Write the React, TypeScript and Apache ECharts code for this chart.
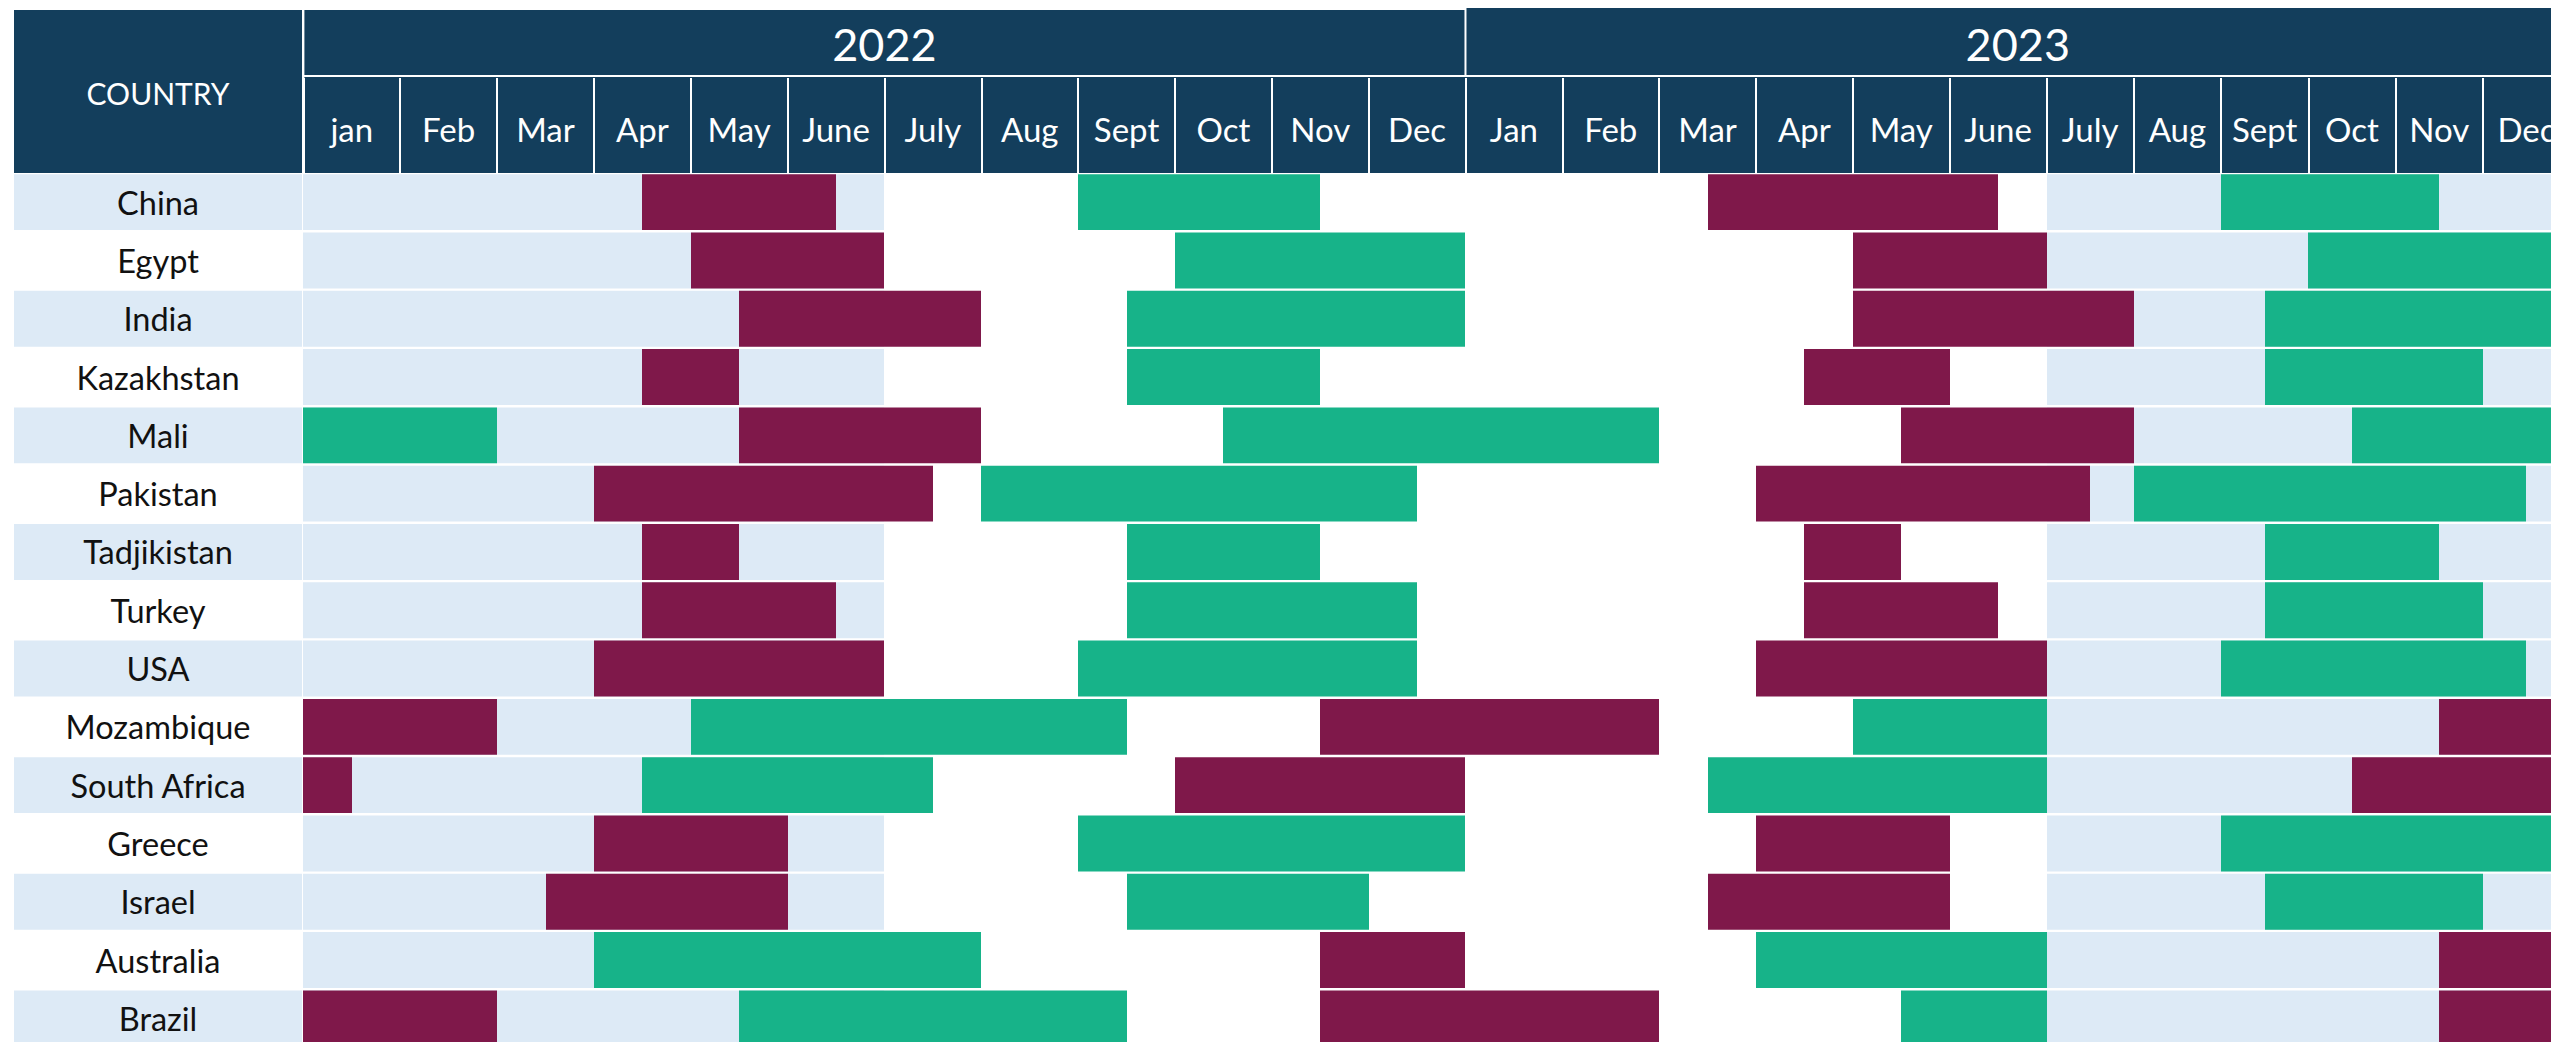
import React, { useEffect, useRef } from 'react';
import * as echarts from 'echarts';

// ---------------- data ----------------
const countries = [
  'China', 'Egypt', 'India', 'Kazakhstan', 'Mali', 'Pakistan', 'Tadjikistan', 'Turkey',
  'USA', 'Mozambique', 'South Africa', 'Greece', 'Israel', 'Australia', 'Brazil',
];
const years = ['2022', '2023'];
const months2022 = ['jan', 'Feb', 'Mar', 'Apr', 'May', 'June', 'July', 'Aug', 'Sept', 'Oct', 'Nov', 'Dec'];
const months2023 = ['Jan', 'Feb', 'Mar', 'Apr', 'May', 'June', 'July', 'Aug', 'Sept', 'Oct', 'Nov', 'Dec'];

// periods in month units: 0 = start of Jan 2022, 12 = start of Jan 2023, 24 = end of Dec 2023
const maroonPeriods: [string, number, number][] = [
  ['China', 3.5, 5.5], ['China', 14.5, 17.5],
  ['Egypt', 4, 6], ['Egypt', 16, 18],
  ['India', 4.5, 7], ['India', 16, 19],
  ['Kazakhstan', 3.5, 4.5], ['Kazakhstan', 15.5, 17],
  ['Mali', 4.5, 7], ['Mali', 16.5, 19],
  ['Pakistan', 3, 6.5], ['Pakistan', 15, 18.5],
  ['Tadjikistan', 3.5, 4.5], ['Tadjikistan', 15.5, 16.5],
  ['Turkey', 3.5, 5.5], ['Turkey', 15.5, 17.5],
  ['USA', 3, 6], ['USA', 15, 18],
  ['Mozambique', 0, 2], ['Mozambique', 10.5, 14], ['Mozambique', 22.5, 24],
  ['South Africa', 0, 0.5], ['South Africa', 9, 12], ['South Africa', 21.5, 24],
  ['Greece', 3, 5], ['Greece', 15, 17],
  ['Israel', 2.5, 5], ['Israel', 14.5, 17],
  ['Australia', 10.5, 12], ['Australia', 22.5, 24],
  ['Brazil', 0, 2], ['Brazil', 10.5, 14], ['Brazil', 22.5, 24],
];
const greenPeriods: [string, number, number][] = [
  ['China', 8, 10.5], ['China', 20, 22.5],
  ['Egypt', 9, 12], ['Egypt', 21, 24],
  ['India', 8.5, 12], ['India', 20.5, 24],
  ['Kazakhstan', 8.5, 10.5], ['Kazakhstan', 20.5, 23],
  ['Mali', 0, 2], ['Mali', 9.5, 14], ['Mali', 21.5, 24],
  ['Pakistan', 7, 11.5], ['Pakistan', 19, 23.5],
  ['Tadjikistan', 8.5, 10.5], ['Tadjikistan', 20.5, 22.5],
  ['Turkey', 8.5, 11.5], ['Turkey', 20.5, 23],
  ['USA', 8, 11.5], ['USA', 20, 23.5],
  ['Mozambique', 4, 8.5], ['Mozambique', 16, 18],
  ['South Africa', 3.5, 6.5], ['South Africa', 14.5, 18],
  ['Greece', 8, 12], ['Greece', 20, 24],
  ['Israel', 8.5, 11], ['Israel', 20.5, 23],
  ['Australia', 3, 7], ['Australia', 15, 18],
  ['Brazil', 4.5, 8.5], ['Brazil', 16.5, 18],
];
const shadedPeriods: [number, number][] = [[0, 6], [18, 24]];

// ---------------- style / layout ----------------
const NAVY = '#133E5C';
const MAROON = '#7F184A';
const GREEN = '#17B389';
const LIGHT = '#DDEAF6';
const FONT = 'Lato, "Noto Sans", sans-serif';

const LABEL_L = 6;
const LABEL_R = 294;
const GRID_TOP = 165;
const ROW_H = 58.3;
const A_LEFT = 295.4;
const COL_A = 96.84;
const SPLIT = 18;
const COL_B = 87.26;
const B_LEFT = A_LEFT + SPLIT * COL_A;
const TOTAL = 24;

const allMonths = [...months2022, ...months2023];

function toItems(list: [string, number, number][], lo: number, hi: number) {
  const out: number[][] = [];
  list.forEach(([c, s, e]) => {
    const a = Math.max(s, lo);
    const b = Math.min(e, hi);
    if (b > a) out.push([a, b, countries.indexOf(c)]);
  });
  return out;
}

function shadedList(): [string, number, number][] {
  const out: [string, number, number][] = [];
  countries.forEach((c) => shadedPeriods.forEach(([s, e]) => out.push([c, s, e])));
  return out;
}

const makeRender = (fill: string) => (params: any, api: any) => {
  const p0 = api.coord([api.value(0), api.value(2)]);
  const p1 = api.coord([api.value(1), api.value(2)]);
  const h = api.size([0, 1])[1];
  const x0 = Math.round(p0[0]);
  const x1 = Math.round(p1[0]);
  return {
    type: 'rect',
    shape: { x: x0, y: p0[1] - h / 2 + 1.2, width: x1 - x0, height: h - 2.4 },
    style: { fill },
  };
};

const labelRender = (params: any, api: any) => {
  const p0 = api.coord([api.value(0), api.value(2)]);
  const p1 = api.coord([api.value(1), api.value(2)]);
  const h = api.size([0, 1])[1];
  return {
    type: 'rect',
    shape: { x: p0[0], y: p0[1] - h / 2 + 1.2, width: p1[0] - p0[0], height: h - 2.4 },
    style: { fill: params.dataIndex % 2 === 0 ? LIGHT : '#ffffff' },
  };
};

export default function App() {
  const ref = useRef<HTMLDivElement>(null);

  useEffect(() => {
    if (!ref.current) return;
    const chart = echarts.init(ref.current, undefined, { renderer: 'svg' });
    const gridH = ROW_H * countries.length;
    const baseGrid = { top: GRID_TOP, height: gridH, containLabel: false, outerBoundsMode: 'none' };

    const monthAxisCommon = {
      type: 'category',
      position: 'top',
      boundaryGap: true,
      axisLine: { show: false },
      axisTick: { show: true, interval: 0, length: 95, lineStyle: { color: '#ffffff', width: 2 } },
      axisLabel: {
        interval: 0,
        color: '#ffffff',
        fontFamily: FONT,
        fontSize: 33,
        margin: 44,
        verticalAlign: 'middle',
      },
      splitLine: { show: false },
      z: 10,
    };

    const hiddenCat = {
      type: 'category',
      inverse: true,
      data: countries,
      show: false,
    };

    const y2022Left = A_LEFT;
    const y2022Right = A_LEFT + 12 * COL_A;
    const y2023Right = B_LEFT + (TOTAL - SPLIT) * COL_B;

    const option: any = {
      animation: false,
      backgroundColor: '#ffffff',
      grid: [
        { ...baseGrid, left: LABEL_L, width: LABEL_R - LABEL_L },
        { ...baseGrid, left: A_LEFT, width: SPLIT * COL_A },
        { ...baseGrid, left: B_LEFT, width: (TOTAL - SPLIT) * COL_B },
      ],
      xAxis: [
        { type: 'value', gridIndex: 0, min: 0, max: 1, show: false },
        { type: 'value', gridIndex: 1, min: 0, max: SPLIT, show: false },
        { type: 'value', gridIndex: 2, min: SPLIT, max: TOTAL, show: false },
        { ...monthAxisCommon, gridIndex: 1, data: allMonths.slice(0, SPLIT) },
        { ...monthAxisCommon, gridIndex: 2, data: allMonths.slice(SPLIT, TOTAL) },
      ],
      yAxis: [
        {
          type: 'category',
          gridIndex: 0,
          inverse: true,
          data: countries,
          axisLine: { show: false },
          axisTick: { show: false },
          splitLine: { show: false },
          axisLabel: {
            inside: true,
            margin: (LABEL_R - LABEL_L) / 2,
            align: 'center',
            verticalAlign: 'middle',
            color: '#111111',
            fontFamily: FONT,
            fontSize: 32.5,
          },
          z: 10,
        },
        { ...hiddenCat, gridIndex: 1 },
        { ...hiddenCat, gridIndex: 2 },
      ],
      graphic: {
        elements: [
          { type: 'rect', shape: { x: LABEL_L, y: 2, width: LABEL_R - LABEL_L, height: GRID_TOP - 2 }, style: { fill: NAVY } },
          { type: 'rect', shape: { x: y2022Left + 1, y: 2, width: y2022Right - y2022Left - 2, height: 65 }, style: { fill: NAVY } },
          { type: 'rect', shape: { x: y2022Right + 1, y: 0, width: y2023Right - y2022Right, height: 67 }, style: { fill: NAVY } },
          { type: 'rect', shape: { x: A_LEFT + 1, y: 69, width: y2023Right - A_LEFT, height: GRID_TOP - 69 }, style: { fill: NAVY } },
          {
            type: 'text', x: (LABEL_L + LABEL_R) / 2, y: 85,
            style: { text: 'COUNTRY', fill: '#ffffff', font: `30px ${FONT}`, textAlign: 'center', textVerticalAlign: 'middle' },
          },
          {
            type: 'text', x: (y2022Left + y2022Right) / 2, y: 36,
            style: { text: years[0], fill: '#ffffff', font: `45px ${FONT}`, textAlign: 'center', textVerticalAlign: 'middle' },
          },
          {
            type: 'text', x: (y2022Right + y2023Right) / 2, y: 36,
            style: { text: years[1], fill: '#ffffff', font: `45px ${FONT}`, textAlign: 'center', textVerticalAlign: 'middle' },
          },
        ],
      },
      series: [
        {
          type: 'custom', name: 'labels', xAxisIndex: 0, yAxisIndex: 0,
          renderItem: labelRender, encode: { x: [0, 1], y: 2 },
          data: countries.map((c, i) => [0, 1, i]),
        },
        {
          type: 'custom', name: 'shadeA', xAxisIndex: 1, yAxisIndex: 1,
          renderItem: makeRender(LIGHT), encode: { x: [0, 1], y: 2 },
          data: toItems(shadedList(), 0, SPLIT),
        },
        {
          type: 'custom', name: 'shadeB', xAxisIndex: 2, yAxisIndex: 2,
          renderItem: makeRender(LIGHT), encode: { x: [0, 1], y: 2 },
          data: toItems(shadedList(), SPLIT, TOTAL),
        },
        {
          type: 'custom', name: 'maroonA', xAxisIndex: 1, yAxisIndex: 1,
          renderItem: makeRender(MAROON), encode: { x: [0, 1], y: 2 },
          data: toItems(maroonPeriods, 0, SPLIT),
        },
        {
          type: 'custom', name: 'maroonB', xAxisIndex: 2, yAxisIndex: 2,
          renderItem: makeRender(MAROON), encode: { x: [0, 1], y: 2 },
          data: toItems(maroonPeriods, SPLIT, TOTAL),
        },
        {
          type: 'custom', name: 'greenA', xAxisIndex: 1, yAxisIndex: 1,
          renderItem: makeRender(GREEN), encode: { x: [0, 1], y: 2 },
          data: toItems(greenPeriods, 0, SPLIT),
        },
        {
          type: 'custom', name: 'greenB', xAxisIndex: 2, yAxisIndex: 2,
          renderItem: makeRender(GREEN), encode: { x: [0, 1], y: 2 },
          data: toItems(greenPeriods, SPLIT, TOTAL),
        },
      ],
    };

    chart.setOption(option);
    return () => chart.dispose();
  }, []);

  return (
    <div
      ref={ref}
      style={{ position: 'fixed', left: 8, top: 8, width: 2543, height: 1034 }}
    />
  );
}
